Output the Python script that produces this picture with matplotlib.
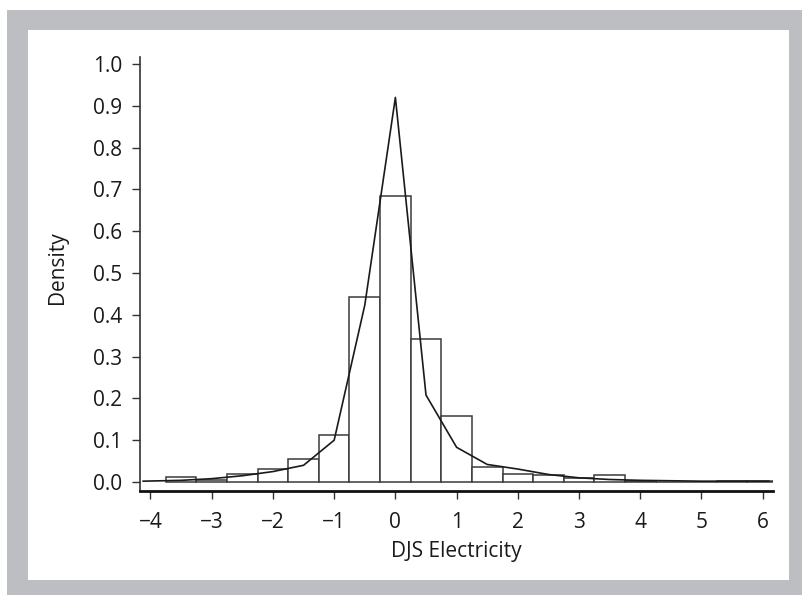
import matplotlib
matplotlib.use("Agg")
import matplotlib.pyplot as plt
from matplotlib.patches import Rectangle

# histogram bins (width 0.5, centred on multiples of 0.5)
bin_centers = [-3.5, -3.0, -2.5, -2.0, -1.5, -1.0, -0.5, 0.0, 0.5, 1.0,
               1.5, 2.0, 2.5, 3.0, 3.5, 4.0, 4.5, 5.0, 5.5, 6.0]
bin_heights = [0.013, 0.006, 0.019, 0.031, 0.054, 0.112, 0.443, 0.684, 0.342, 0.159,
               0.035, 0.019, 0.016, 0.009, 0.017, 0.003, 0.001, 0.001, 0.002, 0.002]

# density curve
curve_x = [-4.12, -3.5, -3.0, -2.5, -2.0, -1.5, -1.0, -0.5, 0.0, 0.5,
           1.0, 1.5, 2.0, 2.5, 3.0, 3.5, 4.0, 4.5, 5.0, 5.5, 6.1]
curve_y = [0.002, 0.004, 0.008, 0.015, 0.025, 0.040, 0.100, 0.423, 0.920, 0.208,
           0.083, 0.042, 0.031, 0.018, 0.010, 0.006, 0.004, 0.003, 0.002, 0.002, 0.002]

x_ticks = [-4, -3, -2, -1, 0, 1, 2, 3, 4, 5, 6]
y_ticks = [0.0, 0.1, 0.2, 0.3, 0.4, 0.5, 0.6, 0.7, 0.8, 0.9, 1.0]

plt.rcParams['font.family'] = ['Open Sans', 'DejaVu Sans']

W, H = 803, 595
fig = plt.figure(figsize=(W / 100, H / 100), dpi=100)
fig.patch.set_facecolor('white')

# grey frame with white panel (behind the axes)
fig.patches.append(Rectangle((7 / W, 0), 1 - 7 / W, (H - 10) / H,
                             transform=fig.transFigure, facecolor='#bdbec2',
                             edgecolor='none', zorder=-2))
fig.patches.append(Rectangle((28 / W, 15 / H), 761 / W, 550 / H,
                             transform=fig.transFigure, facecolor='white',
                             edgecolor='none', zorder=-1))

ax = fig.add_axes([140 / W, (H - 491) / H, 633 / W, 434 / H])
ax.set_facecolor('none')

ax.bar(bin_centers, bin_heights, width=0.5, facecolor='white',
       edgecolor='#3a3a3a', linewidth=1.1, zorder=2)
ax.plot(curve_x, curve_y, color='#1a1a1a', linewidth=1.2, zorder=3)

ax.set_xlim(-4.1715, 6.168)
ax.set_ylim(-0.0215, 1.0167)
ax.set_xticks(x_ticks)
ax.set_yticks(y_ticks)
ax.set_xticklabels([f"\u2212{abs(v)}" if v < 0 else str(v) for v in x_ticks])
ax.set_yticklabels([f"{v:.1f}" for v in y_ticks])

for s in ['top', 'right']:
    ax.spines[s].set_visible(False)
ax.spines['left'].set_color('#333333')
ax.spines['left'].set_linewidth(1.2)
ax.spines['bottom'].set_color('#111111')
ax.spines['bottom'].set_linewidth(2.0)

ax.tick_params(axis='y', length=6, width=1.0, color='#333333', pad=7,
               labelsize=15, labelcolor='#1a1a1a')
ax.tick_params(axis='x', length=6, width=1.0, color='#333333', pad=9,
               labelsize=15, labelcolor='#1a1a1a')

fig.text(456 / W, 1 - 551 / H, 'DJS Electricity', ha='center', va='center',
         fontsize=15, color='#1a1a1a')
fig.text(57 / W, 1 - 268 / H, 'Density', ha='center', va='center',
         rotation=90, fontsize=15, color='#1a1a1a')

fig.savefig('out.png', dpi=100)
